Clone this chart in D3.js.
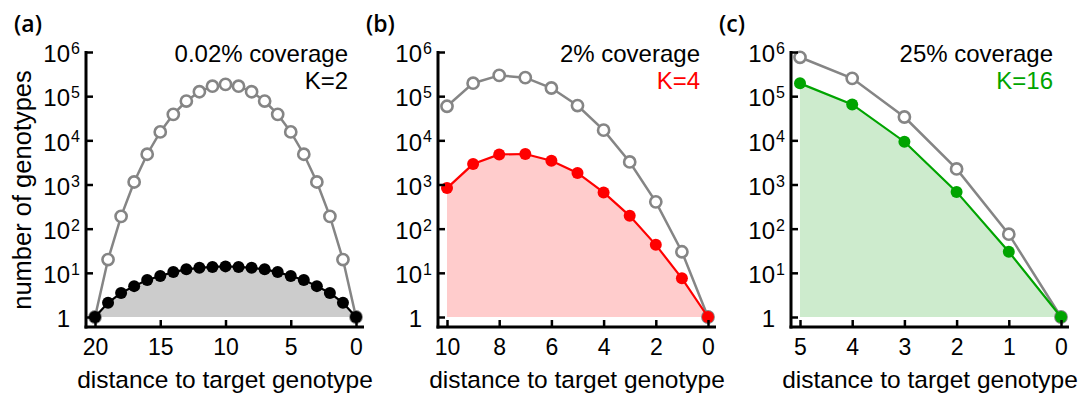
<!DOCTYPE html>
<html>
<head>
<meta charset="utf-8">
<script src="https://cdn.jsdelivr.net/npm/d3@7"></script>
<style>
  body { margin: 0; background: #fff; }
  svg text { font-family: "Liberation Sans", Arial, sans-serif; fill: #000; }
</style>
</head>
<body>
<div id="chart"></div>
<script>
// distances (x) per panel
const distA = [20, 19, 18, 17, 16, 15, 14, 13, 12, 11, 10, 9, 8, 7, 6, 5, 4, 3, 2, 1, 0];
const distB = [10, 9, 8, 7, 6, 5, 4, 3, 2, 1, 0];
const distC = [5, 4, 3, 2, 1, 0];

// all genotypes (open gray circles)
const grayA = [1, 20, 190, 1140, 4845, 15504, 38760, 77520, 125970, 167960, 184756,
               167960, 125970, 77520, 38760, 15504, 4845, 1140, 190, 20, 1];
const grayB = [59049, 196830, 295245, 262440, 153090, 61236, 17010, 3240, 405, 30, 1];
const grayC = [759375, 253125, 33750, 2250, 75, 1];

// covered genotypes (filled circles)
const covA = [1, 2.1, 3.5, 5, 6.9, 8.5, 10.4, 12, 13, 13.6, 14, 13.6, 13, 12, 10.4, 8.5, 6.9, 5, 3.5, 2.1, 1];
const covB = [830, 2900, 4800, 4900, 3450, 1830, 660, 195, 43, 7.5, 1];
const covC = [195000, 65000, 9300, 680, 30, 1];

const xTicksA = [20, 15, 10, 5, 0];
const xTicksB = [10, 8, 6, 4, 2, 0];
const xTicksC = [5, 4, 3, 2, 1, 0];
const yTicks = [1, 10, 100, 1000, 10000, 100000, 1000000];

const panels = [
  { tag: '(a)', coverage: '0.02% coverage', k: 'K=2', kColor: '#000', dist: distA, gray: grayA, cov: covA,
    xTicks: xTicksA, line: '#000', fill: '#cccccc', left: 0 },
  { tag: '(b)', coverage: '2% coverage', k: 'K=4', kColor: '#ff0000', dist: distB, gray: grayB, cov: covB,
    xTicks: xTicksB, line: '#ff0000', fill: '#ffcccc', left: 352 },
  { tag: '(c)', coverage: '25% coverage', k: 'K=16', kColor: '#00a400', dist: distC, gray: grayC, cov: covC,
    xTicks: xTicksC, line: '#00a400', fill: '#cdebcd', left: 705 }
];

const width = 1079, height = 396;
const grayCol = '#858585';

const svg = d3.select('#chart').append('svg')
  .attr('width', width).attr('height', height);

const y = d3.scaleLog().domain([1, 1e6]).range([317, 52]);
const axisY = 327;

panels.forEach(p => {
  const axisX = p.left + 86;
  const x = d3.scaleLinear()
    .domain([d3.max(p.dist), 0])
    .range([p.left + 95, p.left + 356]);

  const g = svg.append('g');

  // panel tag
  g.append('text')
    .attr('x', p.left + 14).attr('y', 32)
    .style('font-family', '"Open Sans", sans-serif')
    .style('font-weight', 600)
    .style('font-size', '23px')
    .text(p.tag);

  // shaded area down to 1
  const pts = p.dist.map((d, i) => [d, p.cov[i]]);
  g.append('path')
    .datum(pts)
    .attr('fill', p.fill)
    .attr('d', d3.area().x(d => x(d[0])).y0(y(1)).y1(d => y(d[1])));

  // gray line + open circles
  const grayPts = p.dist.map((d, i) => [d, p.gray[i]]);
  g.append('path')
    .datum(grayPts)
    .attr('fill', 'none')
    .attr('stroke', grayCol)
    .attr('stroke-width', 2.5)
    .attr('d', d3.line().x(d => x(d[0])).y(d => y(d[1])));
  g.selectAll('.gdot').data(grayPts).enter().append('circle')
    .attr('cx', d => x(d[0])).attr('cy', d => y(d[1]))
    .attr('r', 5.6)
    .attr('fill', '#fff')
    .attr('stroke', grayCol)
    .attr('stroke-width', 2.6);

  // coloured line + filled circles
  g.append('path')
    .datum(pts)
    .attr('fill', 'none')
    .attr('stroke', p.line)
    .attr('stroke-width', 2.2)
    .attr('d', d3.line().x(d => x(d[0])).y(d => y(d[1])));
  g.selectAll('.cdot').data(pts).enter().append('circle')
    .attr('cx', d => x(d[0])).attr('cy', d => y(d[1]))
    .attr('r', 6)
    .attr('fill', p.line);

  // y axis
  const yAxis = d3.axisRight(y).tickValues(yTicks).tickSize(7).tickSizeOuter(0).tickFormat('');
  const ya = g.append('g').attr('transform', `translate(${axisX},0)`).call(yAxis);
  ya.select('.domain').remove();
  ya.selectAll('.tick line').attr('stroke-width', 2.5);
  g.append('line')
    .attr('x1', axisX).attr('x2', axisX)
    .attr('y1', y(1e6) - 1).attr('y2', axisY + 1.5)
    .attr('stroke', '#000').attr('stroke-width', 3);

  // y tick labels with superscripts
  yTicks.forEach(v => {
    const e = Math.round(Math.log10(v));
    const lx = axisX - 16;
    g.append('text')
      .attr('x', lx).attr('y', y(v)).attr('dy', '0.43em')
      .attr('text-anchor', 'end')
      .style('font-size', '24px')
      .text(e === 0 ? '1' : '10');
    if (e > 0) {
      g.append('text')
        .attr('x', lx + 1).attr('y', y(v) + 2)
        .style('font-size', '16px')
        .text(e);
    }
  });

  // x axis
  const xAxis = d3.axisBottom(x).tickValues(p.xTicks).tickFormat(d3.format('d'))
    .tickSize(-7).tickSizeOuter(0).tickPadding(12);
  const xa = g.append('g').attr('transform', `translate(0,${axisY})`).call(xAxis);
  xa.select('.domain').remove();
  xa.selectAll('.tick line').attr('stroke-width', 2.5);
  xa.selectAll('.tick text')
    .style('font-family', '"Liberation Sans", Arial, sans-serif')
    .style('font-size', '23px').attr('fill', '#000');
  g.append('line')
    .attr('x1', axisX - 1.5).attr('x2', p.left + 364)
    .attr('y1', axisY).attr('y2', axisY)
    .attr('stroke', '#000').attr('stroke-width', 3);

  // x title
  g.append('text')
    .attr('x', p.left + 225).attr('y', 388)
    .attr('text-anchor', 'middle')
    .style('font-size', '24.5px')
    .text('distance to target genotype');

  // annotations
  g.append('text')
    .attr('x', p.left + 348).attr('y', 62)
    .attr('text-anchor', 'end')
    .style('font-size', '24px')
    .text(p.coverage);
  g.append('text')
    .attr('x', p.left + 348).attr('y', 89)
    .attr('text-anchor', 'end')
    .style('font-size', '24px')
    .style('fill', p.kColor)
    .text(p.k);
});

// y title
svg.append('text')
  .attr('transform', 'translate(31,190) rotate(-90)')
  .attr('text-anchor', 'middle')
  .style('font-size', '25.5px')
  .text('number of genotypes');
</script>
</body>
</html>
